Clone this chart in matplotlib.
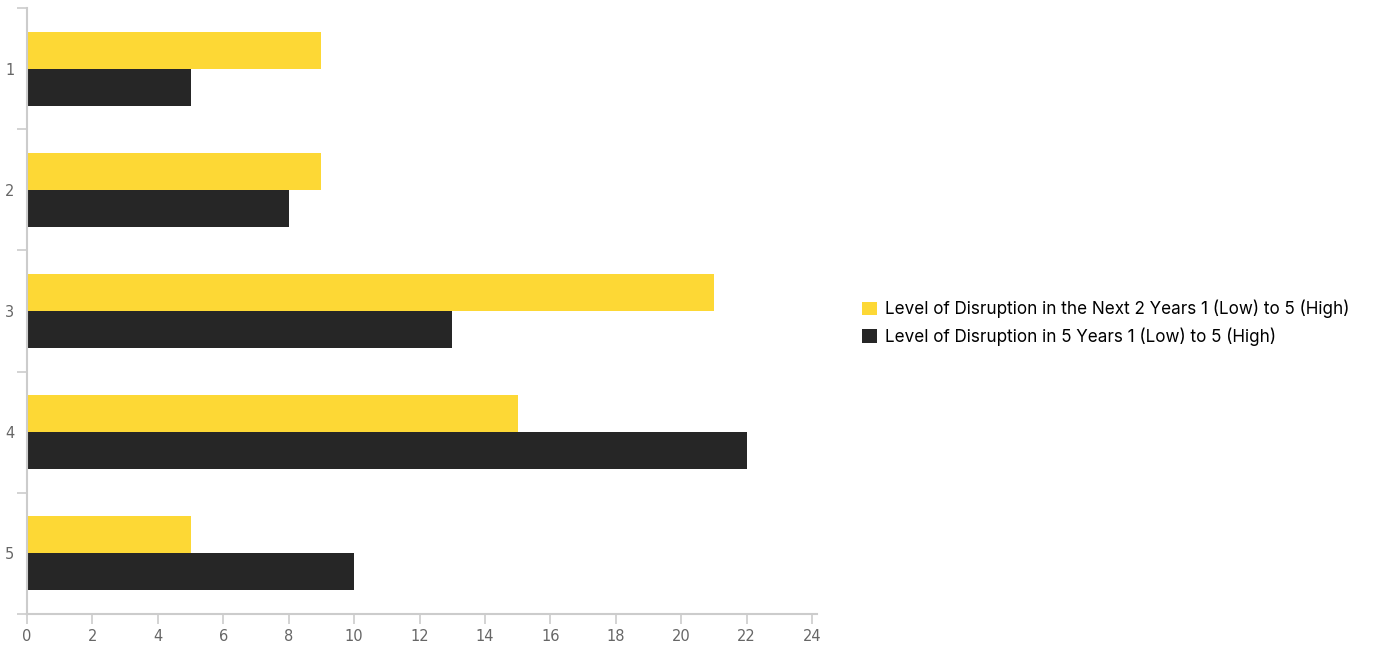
import numpy as np
import matplotlib.pyplot as plt

categories = ["1", "2", "3", "4", "5"]
next_2_years = [9, 9, 21, 15, 5]
in_5_years = [5, 8, 13, 22, 10]
series_names = ["Level of Disruption in the Next 2 Years 1 (Low) to 5 (High)",
                "Level of Disruption in 5 Years 1 (Low) to 5 (High)"]
xticks = list(range(0, 25, 2))

yellow = "#FDD835"
dark = "#262626"
grey = "#666666"
axis_grey = "#cccccc"

fig = plt.figure(figsize=(13.77, 6.45), dpi=100)
ax = fig.add_axes([27 / 1377, 31 / 645, 790 / 1377, 606 / 645])

y = np.arange(len(categories))
h = 0.305
ax.barh(y - h / 2, next_2_years, height=h, color=yellow, label=series_names[0])
ax.barh(y + h / 2, in_5_years, height=h, color=dark, label=series_names[1])

ax.set_ylim(len(categories) - 0.5, -0.5)
ax.set_xlim(0, 24.15)
ax.set_xticks(xticks)
ax.set_xticklabels([str(t) for t in xticks], fontsize=10.5, color=grey)

# category labels in the middle, tick marks on the boundaries
ax.set_yticks(y)
ax.set_yticklabels(categories, fontsize=10.5, color=grey)
ax.set_yticks(np.arange(-0.5, len(categories)), minor=True)
ax.tick_params(axis="y", which="major", length=0, pad=9)
ax.tick_params(axis="y", which="minor", length=7, color=axis_grey, width=1.2)
ax.tick_params(axis="x", length=7, color=axis_grey, width=1.2, pad=4)

for side in ["top", "right"]:
    ax.spines[side].set_visible(False)
for side in ["left", "bottom"]:
    ax.spines[side].set_color(axis_grey)
    ax.spines[side].set_linewidth(1.5)

leg = fig.legend(loc="center left", bbox_to_anchor=(847 / 1377, 1 - 323 / 645),
                 frameon=False, handlelength=0.85, handleheight=0.85,
                 handletextpad=0.5, labelspacing=0.55,
                 prop={"family": ["Inter", "DejaVu Sans"], "size": 12.3})

fig.savefig("out.png", dpi=100)
